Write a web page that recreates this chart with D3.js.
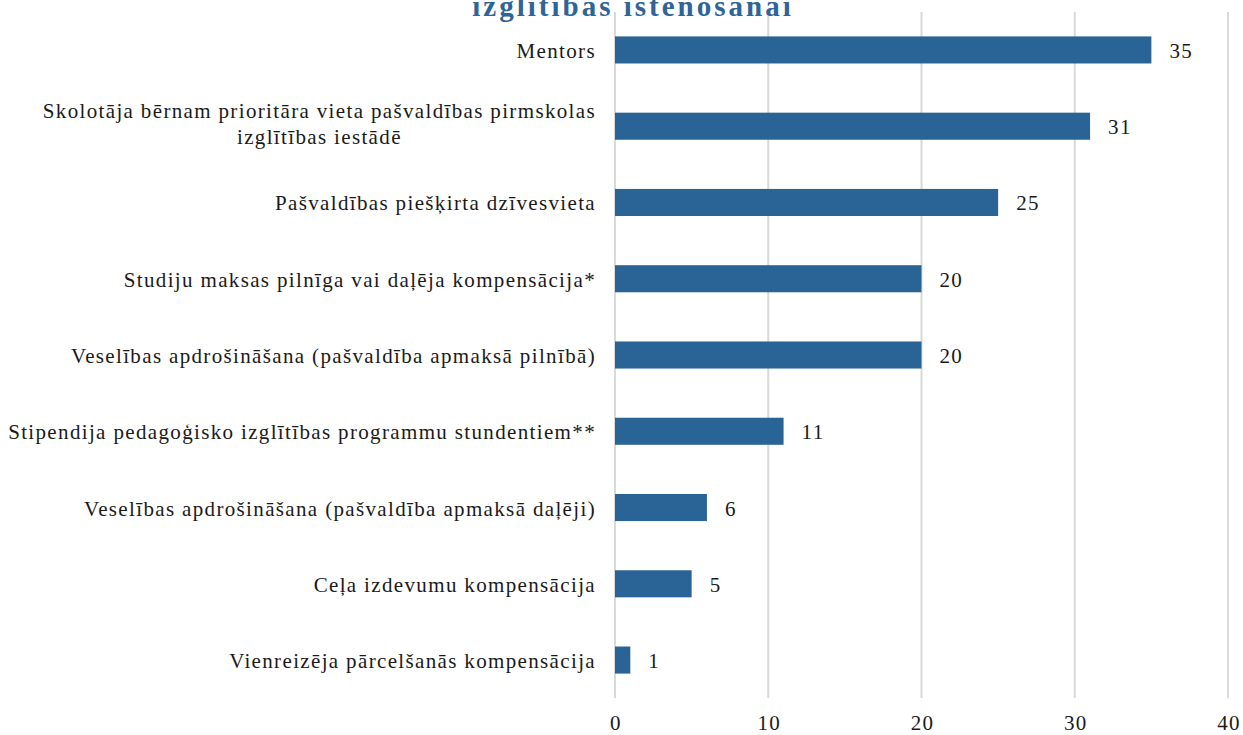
<!DOCTYPE html>
<html>
<head>
<meta charset="utf-8">
<script src="https://cdn.jsdelivr.net/npm/d3@7"></script>
<style>
  body { margin: 0; background: #fff; }
  svg { font-family: "Liberation Serif", "DejaVu Serif", serif; }
</style>
</head>
<body>
<svg id="chart" width="1243" height="735"></svg>
<script>
const width = 1243;
const height = 735;

const categories = [
    ["Mentors"],
    ["Skolotāja bērnam prioritāra vieta pašvaldības pirmskolas", "izglītības iestādē"],
    ["Pašvaldības piešķirta dzīvesvieta"],
    ["Studiju maksas pilnīga vai daļēja kompensācija*"],
    ["Veselības apdrošināšana (pašvaldība apmaksā pilnībā)"],
    ["Stipendija pedagoģisko izglītības programmu stundentiem**"],
    ["Veselības apdrošināšana (pašvaldība apmaksā daļēji)"],
    ["Ceļa izdevumu kompensācija"],
    ["Vienreizēja pārcelšanās kompensācija"]
];
const values = [35, 31, 25, 20, 20, 11, 6, 5, 1];
const ticks = [0, 10, 20, 30, 40];
const title = "izglītības īstenošanai";

const margin = {top: 12, right: 15, bottom: 37, left: 615};
const fontSize = "21px";
const spacing = "1.35px";

const svg = d3.select("#chart");

const x = d3.scaleLinear()
    .domain([0, 40])
    .range([margin.left, width - margin.right]);

const y = d3.scaleBand()
    .domain(d3.range(categories.length))
    .range([margin.top, height - margin.bottom])
    .paddingInner(0.645)
    .paddingOuter(0.32);

// gridlines
svg.append("g")
    .selectAll("line")
    .data(ticks)
    .enter()
    .append("line")
    .attr("x1", d => x(d))
    .attr("x2", d => x(d))
    .attr("y1", margin.top)
    .attr("y2", height - margin.bottom)
    .attr("stroke", "#d9d9d9")
    .attr("stroke-width", 2);

// tick labels
svg.append("g")
    .selectAll("text")
    .data(ticks)
    .enter()
    .append("text")
    .attr("x", d => x(d) + 1)
    .attr("y", 730)
    .attr("text-anchor", "middle")
    .style("font-size", fontSize)
    .style("letter-spacing", spacing)
    .attr("fill", "#1a1a1a")
    .text(d => d);

// bars
svg.append("g")
    .selectAll("rect")
    .data(values)
    .enter()
    .append("rect")
    .attr("x", x(0))
    .attr("y", (d, i) => y(i))
    .attr("width", d => x(d) - x(0))
    .attr("height", y.bandwidth())
    .attr("fill", "#2a6496");

// value labels
svg.append("g")
    .selectAll("text")
    .data(values)
    .enter()
    .append("text")
    .attr("x", d => x(d) + 18)
    .attr("y", (d, i) => y(i) + y.bandwidth() / 2 + 8)
    .style("font-size", fontSize)
    .style("letter-spacing", spacing)
    .attr("fill", "#1a1a1a")
    .text(d => d);

// category labels (right aligned block, lines centred within it)
const labelRight = x(0) - 19;
const lineH = 26;
categories.forEach((lines, i) => {
    const cy = y(i) + y.bandwidth() / 2;
    const shift = lines.length > 1 ? 4.5 : 8;
    const g = svg.append("g");
    const texts = lines.map((t, j) => g.append("text")
        .attr("y", cy + shift + (j - (lines.length - 1) / 2) * lineH)
        .style("font-size", fontSize)
        .style("letter-spacing", spacing)
        .attr("fill", "#1a1a1a")
        .text(t));
    const maxW = d3.max(texts, t => t.node().getComputedTextLength());
    texts.forEach(t => {
        t.attr("x", labelRight - maxW / 2).attr("text-anchor", "middle");
    });
});

// title (only its last line is visible in the frame)
svg.append("text")
    .attr("x", 633)
    .attr("y", 16)
    .attr("text-anchor", "middle")
    .style("font-size", "29px")
    .style("letter-spacing", "3px")
    .style("font-weight", "bold")
    .attr("fill", "#2e6497")
    .text(title);
</script>
</body>
</html>
